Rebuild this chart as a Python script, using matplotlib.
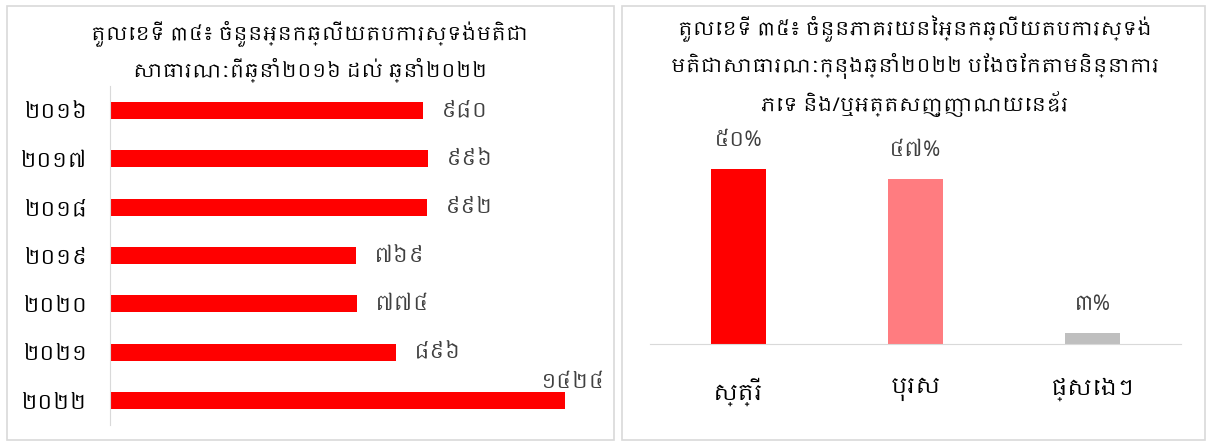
import matplotlib
matplotlib.use("Agg")
import matplotlib.pyplot as plt
from matplotlib import font_manager
from matplotlib.patches import Rectangle


# left chart: respondents per year
years = ["២០១៦", "២០១៧", "២០១៨", "២០១៩", "២០២០", "២០២១", "២០២២"]
respondents = [980, 996, 992, 769, 774, 896, 1424]

# right chart: share by gender in 2022
genders = ["ស្ត្រី", "បុរស", "ផ្សេងៗ"]
shares = [50, 47, 3]
gender_colors = ["#ff0000", "#ff7c80", "#bfbfbf"]

left_title = ("តួលេខទី ៣៤៖ ចំនួនអ្នកឆ្លើយតបការស្ទង់មតិជា\n"
              "សាធារណៈពីឆ្នាំ២០១៦ ដល់ ឆ្នាំ២០២២")
right_title = ("តួលេខទី ៣៥៖ ចំនួនភាគរយនៃអ្នកឆ្លើយតបការស្ទង់\n"
               "មតិជាសាធារណៈក្នុងឆ្នាំ២០២២ បែងចែកតាមនិន្នាការ\n"
               "ភេទ និង/ឬអត្តសញ្ញាណយេនឌ័រ")

KHMER_DIGITS = str.maketrans("0123456789", "០១២៣៤៥៦៧៨៩")


def khmer_num(value):
    return str(value).translate(KHMER_DIGITS)


# use a Khmer font if the machine has one
khmer_fonts = sorted({f.name for f in font_manager.fontManager.ttflist if "Khmer" in f.name})
plt.rcParams["font.family"] = khmer_fonts[:1] + ["DejaVu Sans"]

W, H = 1208, 443
fig = plt.figure(figsize=(W / 100, H / 100), dpi=100)

# panel frames
for x0, x1 in [(7, 614), (622, 1205)]:
    fig.patches.append(Rectangle((x0 / W, 1 - 440 / H), (x1 - x0) / W, 434 / H,
                                 transform=fig.transFigure, fill=False,
                                 edgecolor="#d9d9d9", linewidth=1.2))

# ---- left: horizontal bars ----
ax1 = fig.add_axes([110 / W, 1 - 425 / H, 460 / W, 339 / H])
pos = list(range(len(years)))
ax1.barh(pos, respondents, height=0.35, color="#ff0000")
ax1.set_ylim(len(years) - 0.5, -0.5)
ax1.set_xlim(0, 1440)
ax1.set_yticks(pos)
ax1.set_yticklabels(years, fontsize=15, color="#000000")
ax1.tick_params(axis="y", length=0, pad=16)
ax1.set_xticks([])
for side in ["top", "right", "bottom"]:
    ax1.spines[side].set_visible(False)
ax1.spines["left"].set_color("#d9d9d9")

for i, v in enumerate(respondents):
    if i == len(respondents) - 1:
        ax1.annotate(khmer_num(v), (v, i), xytext=(-17, 6), textcoords="offset points",
                     ha="left", va="bottom", fontsize=15, color="#404040", fontweight="bold")
    else:
        ax1.annotate(khmer_num(v), (v, i), xytext=(13, 0), textcoords="offset points",
                     ha="left", va="center", fontsize=15, color="#404040", fontweight="bold")

fig.text(310 / W, 1 - 51 / H, left_title, ha="center", va="center",
         fontsize=14, style="italic", linespacing=1.6)

# ---- right: vertical bars ----
ax2 = fig.add_axes([650 / W, 1 - 344 / H, 531 / W, 214 / H])
xpos = list(range(len(genders)))
ax2.bar(xpos, shares, width=0.316, color=gender_colors)
ax2.set_xlim(-0.5, len(genders) - 0.5)
ax2.set_ylim(0, 61.1)
ax2.set_xticks(xpos)
ax2.set_xticklabels(genders, fontsize=16, color="#000000")
ax2.tick_params(axis="x", length=0, pad=24)
ax2.set_yticks([])
for side in ["top", "right", "left"]:
    ax2.spines[side].set_visible(False)
ax2.spines["bottom"].set_color("#d9d9d9")

for i, v in enumerate(shares):
    ax2.annotate(khmer_num(v) + "%", (i, v), xytext=(0, 21), textcoords="offset points",
                 ha="center", va="center", fontsize=15, color="#404040", fontweight="bold")

fig.text(915 / W, 1 - 66 / H, right_title, ha="center", va="center",
         fontsize=14, style="italic", linespacing=1.6)

fig.savefig("out.png", dpi=100)
